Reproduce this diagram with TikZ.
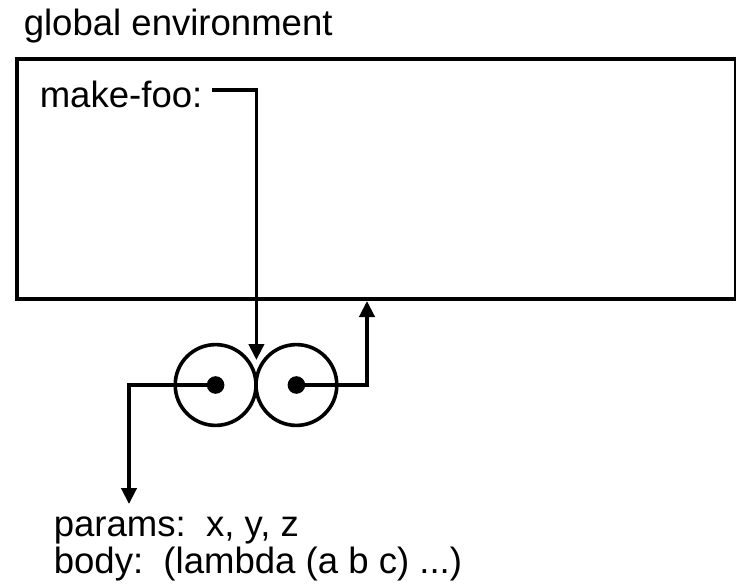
\documentclass[tikz,border=0pt]{standalone}
\usepackage{fontspec}
\setmainfont{Liberation Sans}
\usetikzlibrary{arrows.meta}
\begin{document}
\begin{tikzpicture}[line width=0.09cm,
    >={Triangle[width=0.38cm,length=0.4cm]},
    every node/.style={font=\fontsize{26}{26.3}\selectfont, inner sep=0pt},
    cell/.style={circle,draw,minimum size=2.02cm},
    dot/.style={circle,fill,minimum size=0.44cm}]
  \useasboundingbox (0,0) rectangle (18.4,14.65);
  % environment frame
  \node [anchor=base west] (genv) at (0.55,13.75) {global environment};
  \node [draw,line width=0.1cm,anchor=north west,minimum width=17.975cm,minimum height=6cm] (env) at (0.375,13.225) {};
  \node [anchor=base west,inner xsep=0.2cm] (mf) at (0.75,11.975) {make-foo:};
  % procedure object
  \node [cell] (lc) at (5.39,5.025) {};
  \node [cell] (rc) at (7.41,5.025) {};
  \node [dot] (ld) at (lc) {};
  \node [dot] (rd) at (rc) {};
  \node [anchor=base west] (params) at (1.3,1.25) {params:~~x, y, z};
  \node [anchor=base west] (body) at (1.3,0.325) {body:~~(lambda (a b c) ...)};
  \coordinate (mftip) at (6.41,5.65);
  \coordinate (lbend) at (3.225,5.025);
  \coordinate (ltip) at (3.225,2.05);
  \coordinate (rbend) at (9.175,5.025);
  \draw [->] ([yshift=0.1cm]mf.east) -| (mftip);
  \draw [->] (ld.center) -- (lbend) -- (ltip);
  \draw [->] (rd.center) -- (rbend) -- (rbend |- env.south);
\end{tikzpicture}
\end{document}
